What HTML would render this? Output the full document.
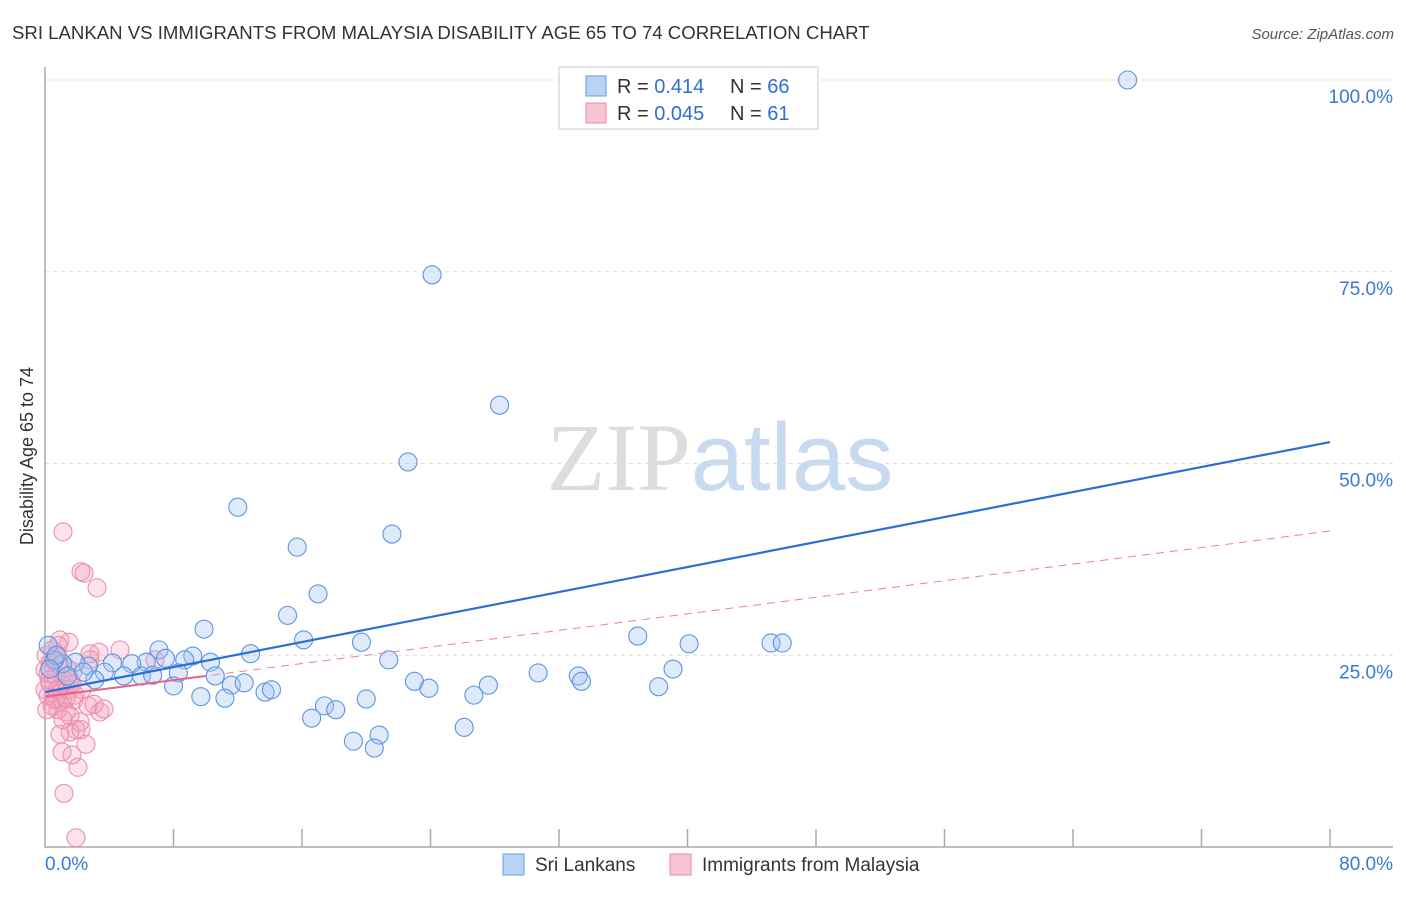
<!DOCTYPE html>
<html><head><meta charset="utf-8"><style>
body{margin:0;background:#fff;font-family:"Liberation Sans",sans-serif}
svg text{font-family:"Liberation Sans",sans-serif}
</style></head><body>
<svg id="chart" width="1406" height="892" xmlns="http://www.w3.org/2000/svg">
<text x="12" y="39" font-size="18.6" fill="#333">SRI LANKAN VS IMMIGRANTS FROM MALAYSIA DISABILITY AGE 65 TO 74 CORRELATION CHART</text>
<text x="1394" y="39" font-size="15" fill="#555" text-anchor="end" font-style="italic">Source: ZipAtlas.com</text>
<text x="720" y="490" font-size="96" text-anchor="middle"><tspan font-family="Liberation Serif" fill="#ddd">ZIP</tspan><tspan fill="#c8daf0">atlas</tspan></text>
<text transform="translate(33,456) rotate(-90)" font-size="18" fill="#333" text-anchor="middle">Disability Age 65 to 74</text>
<g id="grid"></g><g id="axes"></g><g id="pts"></g><g id="lines"></g>
<g>
<rect x="559" y="67" width="259" height="62" fill="#fff" stroke="#ccc"/>
<rect x="586" y="76" width="20" height="20" fill="#b8d3f5" stroke="#6a9ee0"/>
<rect x="586" y="103" width="20" height="20" fill="#f9c5d4" stroke="#e88aa8"/>
<text x="617" y="93" font-size="20" fill="#333">R = <tspan fill="#2e6fd6">0.414</tspan><tspan x="730">N = </tspan><tspan fill="#2e6fd6">66</tspan></text>
<text x="617" y="120" font-size="20" fill="#333">R = <tspan fill="#2e6fd6">0.045</tspan><tspan x="730">N = </tspan><tspan fill="#2e6fd6"> 61</tspan></text>
</g>
<g>
<rect x="503" y="854" width="21" height="21" fill="#b8d3f5" stroke="#6a9ee0"/>
<text x="535" y="871" font-size="19" fill="#333">Sri Lankans</text>
<rect x="670" y="854" width="21" height="21" fill="#f9c5d4" stroke="#e88aa8"/>
<text x="702" y="871" font-size="19" fill="#333">Immigrants from Malaysia</text>
</g>
</svg>
<script>
const blueX=[67.4,24.1,28.3,22.6,12.0,21.6,15.7,17.0,15.1,9.9,16.1,19.7,36.9,40.1,45.2,45.9,7.1,9.2,12.8,21.4,10.3,8.7,7.5,6.3,5.4,4.2,2.7,1.9,1.1,0.6,0.2,0.7,3.7,4.9,6.0,6.7,8.3,10.6,30.7,33.2,39.1,3.1,1.4,2.4,11.6,12.4,8.0,23.0,23.9,27.6,33.4,38.2,13.7,14.1,9.7,11.2,20.0,26.7,17.4,18.1,16.6,26.1,19.2,20.8,20.5,0.3];
const blueY=[100,74.6,57.6,50.2,44.3,40.8,39.1,33.0,30.2,28.4,27.0,26.7,27.5,26.5,26.6,26.6,25.7,24.9,25.2,24.4,24.1,24.4,24.6,24.1,23.9,24.0,23.6,24.1,23.9,24.4,26.3,25.0,22.8,22.3,22.3,22.4,22.7,22.3,22.7,22.3,23.2,21.8,22.3,22.8,21.1,21.4,21.0,21.6,20.7,21.1,21.6,20.9,20.2,20.5,19.6,19.4,19.3,19.8,18.4,17.9,16.8,15.6,13.8,14.6,12.9,23.2];
const pinkX=[1.12,2.24,2.43,3.24,0.93,1.49,3.36,2.80,0.44,0.81,6.85,0.31,0.93,1.37,1.74,0.19,0.68,1.18,1.68,0.31,0.93,1.43,2.30,0.19,0.62,1.06,1.81,2.68,3.42,0.44,0.81,1.31,1.56,2.18,1.93,1.56,0.93,2.55,1.06,1.68,2.05,1.18,1.93,0.62,0.0,0.12,0.50,0.0,1.31,0.75,0.25,1.12,2.24,3.05,3.67,4.67,2.80,1.87,0.81,0.06,1.56];
const pinkY=[41.1,35.9,35.7,33.8,27.0,26.7,25.4,25.2,25.7,25.0,24.4,24.0,23.7,23.3,22.9,22.6,22.3,21.8,21.3,21.3,20.7,20.5,20.5,19.7,19.4,19.2,19.2,18.4,17.6,18.4,17.9,17.6,17.1,16.3,15.3,15.0,14.7,13.4,12.4,12.0,10.4,7.0,1.2,19.2,20.5,17.9,24.4,23.1,19.4,20.5,21.8,16.6,15.3,18.6,18.0,25.7,24.4,19.8,26.3,25.0,21.8];
const yTicks=[25,50,75,100];
const blueLine=[20.2,52.8];
const pinkLine=[19.6,41.2];
const NS="http://www.w3.org/2000/svg";
const X=v=>45+v/80*1285, Y=v=>847-v*7.67;
function mk(p,t,a){const e=document.createElementNS(NS,t);for(const k in a)e.setAttribute(k,a[k]);document.getElementById(p).appendChild(e);return e;}
yTicks.forEach(t=>{
 const g=mk('grid','line',{x1:45,x2:1393,y1:Y(t),y2:Y(t),stroke:'#ddd','stroke-dasharray':'4,4'});
 
 
 const l=mk('grid','text',{x:1393,y:Y(t)+23,'font-size':19,fill:'#3a78d8','text-anchor':'end'});
 l.textContent=t.toFixed(1)+'%';
 
 
});
const ax=mk('axes','path',{d:'M45,67V847H1393',stroke:'#aaa',fill:'none','stroke-width':1.5});


for(let i=1;i<=10;i++){const t=mk('axes','line',{x1:X(i*8),x2:X(i*8),y1:829,y2:847,stroke:'#aaa','stroke-width':1.5});
 
 }
[[0,'0.0%','start',45],[80,'80.0%','end',1393]].forEach(a=>{const t=mk('axes','text',{x:a[3],y:870,'font-size':19,fill:'#3a78d8','text-anchor':a[2]});t.textContent=a[1];
 
 });
pinkX.forEach((x,i)=>{const c=mk('pts','circle',{cx:X(x),cy:Y(pinkY[i]),r:9,fill:'rgba(246,160,188,0.3)',stroke:'#eb8fae','stroke-width':1.1});
 
 });
blueX.forEach((x,i)=>{const c=mk('pts','circle',{cx:X(x),cy:Y(blueY[i]),r:9,fill:'rgba(160,196,240,0.35)',stroke:'#5c95e0','stroke-width':1.1});
 
 });
const pd=mk('lines','line',{x1:X(0),y1:Y(pinkLine[0]),x2:X(80),y2:Y(pinkLine[1]),stroke:'#e87fa0','stroke-width':1,'stroke-dasharray':'8,6'});


const ps=mk('lines','line',{x1:X(0),y1:Y(pinkLine[0]),x2:X(10),y2:Y(pinkLine[0]+(pinkLine[1]-pinkLine[0])/8),stroke:'#e8628a','stroke-width':2});


const bl=mk('lines','line',{x1:X(0),y1:Y(blueLine[0]),x2:X(80),y2:Y(blueLine[1]),stroke:'#2a6fd8','stroke-width':2.2});


</script>
</body></html>
